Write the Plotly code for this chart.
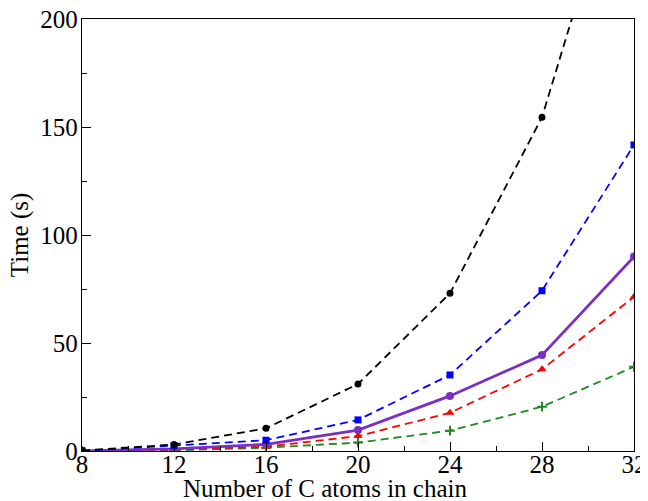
import plotly.graph_objects as go

carbons = [8, 12, 16, 20, 24, 28, 32]
black_vals = [0.2, 3, 10.5, 31, 73, 154.5, 295]
blue_vals = [0.1, 2.5, 5, 14.4, 35.2, 74.2, 141.7]
purple_vals = [0.1, 1.0, 3.1, 9.7, 25.5, 44.4, 90]
red_vals = [0.05, 0.7, 2.0, 6.9, 17.7, 37.8, 71.4]
green_vals = [0.02, 0.3, 1.5, 3.9, 9.4, 20.5, 39]

x_title = "Number of C atoms in chain"
y_title = "Time (s)"

FONT = "Liberation Serif, Times New Roman, serif"
fig = go.Figure()

def add(vals, color, symbol, size, dash, width, mline=0):
    fig.add_trace(go.Scatter(
        x=carbons, y=vals, mode="lines+markers",
        line=dict(color=color, width=width, dash=dash),
        marker=dict(color=color, symbol=symbol, size=size,
                    line=dict(color=color, width=mline)),
        cliponaxis=True, showlegend=False))

add(green_vals, "#1f8a1f", "cross-thin", 7, "8px,5px", 1.8, 2)
add(red_vals, "#ff0000", "triangle-up", 8, "8px,5px", 1.8)
add(purple_vals, "#7a2fc4", "circle", 8, "solid", 2.8)
add(blue_vals, "#0000ff", "square", 7, "8px,5px", 1.8)
add(black_vals, "#000000", "circle", 7, "8px,5px", 1.8)

# page body has an 8px margin; figure sized so plot area lands where the reference has it
fig.update_layout(
    width=640, height=493,
    margin=dict(l=74, r=14, t=11, b=50),
    plot_bgcolor="white", paper_bgcolor="white",
    font=dict(family=FONT, size=25, color="black"),
    xaxis=dict(
        range=[8, 32], tickvals=carbons,
        ticks="inside", ticklen=9, tickwidth=1, tickcolor="black",
        minor=dict(dtick=2, tick0=8, ticks="inside", ticklen=5, tickcolor="black"),
        showline=True, linecolor="black", linewidth=1.3, mirror=True,
        showgrid=False, zeroline=False, automargin=False,
        tickfont=dict(size=25), ticklabelstandoff=-9, ticklabeloverflow="allow",
    ),
    yaxis=dict(
        range=[0, 200], tickvals=[0, 50, 100, 150, 200],
        ticks="inside", ticklen=9, tickwidth=1, tickcolor="black",
        minor=dict(dtick=25, tick0=0, ticks="inside", ticklen=5, tickcolor="black"),
        showline=True, linecolor="black", linewidth=1.3, mirror=True,
        showgrid=False, zeroline=False, automargin=False,
        tickfont=dict(size=25), ticklabelstandoff=-2, ticklabeloverflow="allow",
    ),
    annotations=[
        dict(text=x_title, xref="paper", yref="paper", x=0.441, y=-0.087,
             xanchor="center", yanchor="middle", showarrow=False,
             font=dict(size=25, family=FONT)),
        dict(text=y_title, xref="paper", yref="paper", x=-0.112, y=0.5,
             xanchor="center", yanchor="middle", showarrow=False, textangle=-90,
             font=dict(size=25, family=FONT)),
    ],
)

fig.write_html("out.html")
